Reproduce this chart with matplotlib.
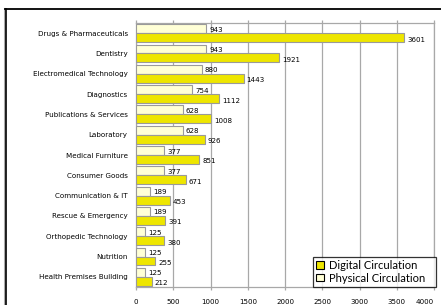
import numpy as np
import matplotlib.pyplot as plt
from matplotlib.patches import Rectangle
from matplotlib.lines import Line2D
from matplotlib import font_manager

categories = ['Drugs & Pharmaceuticals', 'Dentistry', 'Electromedical Technology',
              'Diagnostics', 'Publications & Services', 'Laboratory', 'Medical Furniture',
              'Consumer Goods', 'Communication & IT', 'Rescue & Emergency',
              'Orthopedic Technology', 'Nutrition', 'Health Premises Building']
physical = [943, 943, 880, 754, 628, 628, 377, 377, 189, 189, 125, 125, 125]
digital = [3601, 1921, 1443, 1112, 1008, 926, 851, 671, 453, 391, 380, 255, 212]
xticks = [0, 500, 1000, 1500, 2000, 2500, 3000, 3500, 4000]

digital_color = '#EEE600'
physical_color = '#FFFFD6'
edge = '#9A9A9A'

names = {f.name for f in font_manager.fontManager.ttflist}
narrow = [f for f in ['Liberation Sans Narrow', 'DejaVu Sans Condensed'] if f in names]
small_font = narrow + ['DejaVu Sans']
fs = 5.1

fig = plt.figure(figsize=(4.41, 3.05), dpi=100)

# outer frame of the original slide (cut off at right and bottom)
fig.add_artist(Line2D([4.5 / 441, 4.5 / 441], [1 - 9 / 305, 0], transform=fig.transFigure,
                      color='#AAAAAA', lw=1.5))
fig.add_artist(Line2D([6 / 441, 6 / 441], [1 - 9 / 305, 0], transform=fig.transFigure,
                      color='black', lw=1.2))
fig.add_artist(Line2D([5 / 441, 1], [1 - 9 / 305, 1 - 9 / 305], transform=fig.transFigure,
                      color='black', lw=1.3))

ax = fig.add_axes([136 / 441, 1 - 287 / 305, 298 / 441, 264 / 305])

n = len(categories)
y = np.arange(n)
h = 0.44
ax.barh(y - h / 2, physical, height=h, color=physical_color, edgecolor=edge,
        linewidth=0.8, label='Physical Circulation', zorder=3)
ax.barh(y + h / 2, digital, height=h, color=digital_color, edgecolor=edge,
        linewidth=0.8, label='Digital Circulation', zorder=3)

for i in range(n):
    ax.text(physical[i] + 40, y[i] - h / 2 + 0.05, str(physical[i]), fontsize=fs,
            family=small_font, va='center', ha='left', color='black', zorder=4)
    ax.text(digital[i] + 40, y[i] + h / 2 + 0.1, str(digital[i]), fontsize=fs,
            family=small_font, va='center', ha='left', color='black', zorder=4)

ax.set_ylim(n - 0.5, -0.5)
ax.set_xlim(0, 4000)
ax.set_yticks(y)
ax.set_yticklabels(categories, fontsize=fs, family=small_font, color='black')
ax.set_xticks(xticks)
ax.set_xticklabels([str(t) for t in xticks], fontsize=fs, family=small_font, color='black')
# keep the last tick label inside the canvas
ax.get_xticklabels()[-1].set_horizontalalignment('right')
ax.tick_params(axis='y', length=0, pad=6)
ax.tick_params(axis='x', length=2.5, width=0.9, color='#A8A8A8', pad=6,
               top=True, bottom=True, direction='out')
ax.grid(axis='x', color='#A8A8A8', lw=0.9, zorder=0)
for s in ax.spines.values():
    s.set_color('#A8A8A8')
    s.set_linewidth(0.9)

handles = [Rectangle((0, 0), 1, 1, facecolor=digital_color, edgecolor='black', lw=0.8),
           Rectangle((0, 0), 1, 1, facecolor=physical_color, edgecolor='black', lw=0.8)]
leg = fig.legend(handles, ['Digital Circulation', 'Physical Circulation'],
                 loc='lower left', mode='expand',
                 bbox_to_anchor=(313 / 441, 1 - 287 / 305, 123 / 441, 30 / 305),
                 prop={'family': ['Lato', 'DejaVu Sans'], 'size': 8},
                 frameon=True, fancybox=False, edgecolor='black',
                 handlelength=0.65, handleheight=0.65, handletextpad=0.45,
                 borderpad=0.3, labelspacing=0.15, borderaxespad=0)
leg.get_frame().set_linewidth(0.9)

fig.savefig('out.png', dpi=100)
